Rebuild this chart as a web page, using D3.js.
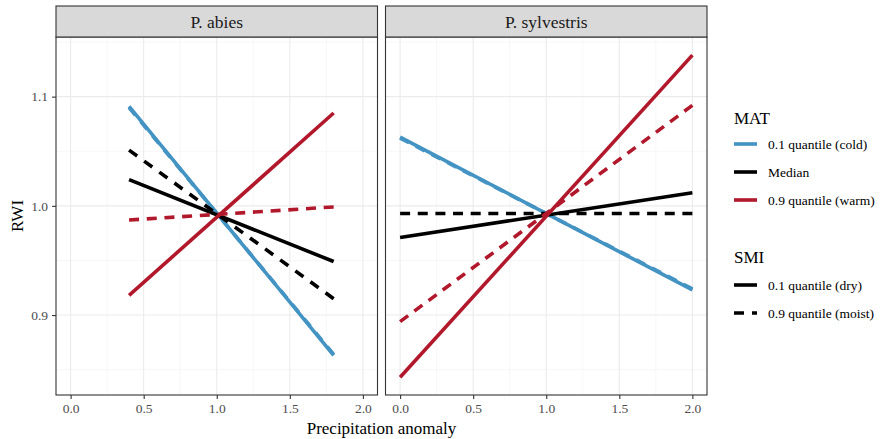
<!DOCTYPE html>
<html>
<head>
<meta charset="utf-8">
<script src="https://cdn.jsdelivr.net/npm/d3@7"></script>
<style>
  body { margin: 0; background: #fff; }
  svg text { font-family: "Liberation Serif", "Times New Roman", Times, "DejaVu Serif", serif !important; }
</style>
</head>
<body>
<svg id="chart"></svg>
<script>
var width = 881, height = 439;

// data
var panels = ["P. abies", "P. sylvestris"];
var matLevels = ["0.1 quantile (cold)", "Median", "0.9 quantile (warm)"];
var smiLevels = ["0.1 quantile (dry)", "0.9 quantile (moist)"];
var xTicks = [0.0, 0.5, 1.0, 1.5, 2.0];
var yTicks = [0.9, 1.0, 1.1];

var abiesX = [0.4, 1.8];
var abiesColdDry = [1.091, 0.863];
var abiesColdMoist = [1.090, 0.864];
var abiesMedDry = [1.024, 0.949];
var abiesMedMoist = [1.051, 0.915];
var abiesWarmDry = [0.918, 1.085];
var abiesWarmMoist = [0.987, 0.999];

var sylvX = [0.0, 2.0];
var sylvColdDry = [1.063, 0.923];
var sylvColdMoist = [1.062, 0.924];
var sylvMedDry = [0.971, 1.012];
var sylvMedMoist = [0.993, 0.993];
var sylvWarmDry = [0.843, 1.138];
var sylvWarmMoist = [0.894, 1.092];

var colors = ["#4393C3", "#000000", "#B2182B"];
var dashLen = 10, gapLen = 8;

var series = [
  {panel: 0, x: abiesX, y: abiesColdDry, mat: 0, smi: 0},
  {panel: 0, x: abiesX, y: abiesColdMoist, mat: 0, smi: 1},
  {panel: 0, x: abiesX, y: abiesMedDry, mat: 1, smi: 0},
  {panel: 0, x: abiesX, y: abiesMedMoist, mat: 1, smi: 1},
  {panel: 0, x: abiesX, y: abiesWarmDry, mat: 2, smi: 0},
  {panel: 0, x: abiesX, y: abiesWarmMoist, mat: 2, smi: 1},
  {panel: 1, x: sylvX, y: sylvColdDry, mat: 0, smi: 0},
  {panel: 1, x: sylvX, y: sylvColdMoist, mat: 0, smi: 1},
  {panel: 1, x: sylvX, y: sylvMedDry, mat: 1, smi: 0},
  {panel: 1, x: sylvX, y: sylvMedMoist, mat: 1, smi: 1},
  {panel: 1, x: sylvX, y: sylvWarmDry, mat: 2, smi: 0},
  {panel: 1, x: sylvX, y: sylvWarmMoist, mat: 2, smi: 1}
];

var svg = d3.select("#chart").attr("width", width).attr("height", height);

var panelLeft = [56, 385.5], panelW = 321.5;
var panelTop = 37, panelBottom = 395, stripTop = 6;

var y = d3.scaleLinear().domain([0.8268, 1.1546]).range([panelBottom, panelTop]);

panels.forEach(function (name, i) {
  var x = d3.scaleLinear().domain([-0.1, 2.1]).range([panelLeft[i], panelLeft[i] + panelW]);
  var g = svg.append("g");

  // grid
  var minorX = [0.25, 0.75, 1.25, 1.75];
  var minorY = [0.85, 0.95, 1.05, 1.15];
  g.selectAll(".mx").data(minorX).enter().append("line")
    .attr("x1", function (d) { return x(d); }).attr("x2", function (d) { return x(d); })
    .attr("y1", panelTop).attr("y2", panelBottom)
    .attr("stroke", "#F2F2F2").attr("stroke-width", 0.6);
  g.selectAll(".my").data(minorY).enter().append("line")
    .attr("x1", panelLeft[i]).attr("x2", panelLeft[i] + panelW)
    .attr("y1", function (d) { return y(d); }).attr("y2", function (d) { return y(d); })
    .attr("stroke", "#F2F2F2").attr("stroke-width", 0.6);
  g.selectAll(".gx").data(xTicks).enter().append("line")
    .attr("x1", function (d) { return x(d); }).attr("x2", function (d) { return x(d); })
    .attr("y1", panelTop).attr("y2", panelBottom)
    .attr("stroke", "#EBEBEB").attr("stroke-width", 1.1);
  g.selectAll(".gy").data(yTicks).enter().append("line")
    .attr("x1", panelLeft[i]).attr("x2", panelLeft[i] + panelW)
    .attr("y1", function (d) { return y(d); }).attr("y2", function (d) { return y(d); })
    .attr("stroke", "#EBEBEB").attr("stroke-width", 1.1);

  // lines
  var line = d3.line().x(function (d) { return x(d[0]); }).y(function (d) { return y(d[1]); });
  series.filter(function (s) { return s.panel === i; }).forEach(function (s) {
    var p = g.append("path")
      .datum(d3.zip(s.x, s.y))
      .attr("d", line)
      .attr("fill", "none")
      .attr("stroke", colors[s.mat])
      .attr("stroke-width", 3.6);
    if (s.smi === 1) {
      // stretch the gaps a little so each dashed line ends on a full dash
      var L = p.node().getTotalLength();
      var n = Math.max(1, Math.round((L - dashLen) / (dashLen + gapLen)));
      var gap = (L - dashLen) / n - dashLen;
      p.attr("stroke-dasharray", dashLen + "," + gap);
    }
  });

  // panel border
  g.append("rect").attr("x", panelLeft[i]).attr("y", panelTop)
    .attr("width", panelW).attr("height", panelBottom - panelTop)
    .attr("fill", "none").attr("stroke", "#333333").attr("stroke-width", 1.1);

  // strip
  g.append("rect").attr("x", panelLeft[i]).attr("y", stripTop)
    .attr("width", panelW).attr("height", panelTop - stripTop)
    .attr("fill", "#D9D9D9").attr("stroke", "#333333").attr("stroke-width", 1.1);
  g.append("text").attr("x", panelLeft[i] + panelW / 2).attr("y", (stripTop + panelTop) / 2 + 6)
    .attr("text-anchor", "middle").attr("font-size", 17.5).attr("fill", "#1A1A1A").text(name);

  // x axis
  var xa = g.append("g").attr("transform", "translate(0," + panelBottom + ")")
    .call(d3.axisBottom(x).tickValues(xTicks).tickFormat(d3.format(".1f")).tickSize(4).tickPadding(4));
  xa.select(".domain").remove();
  xa.selectAll("line").attr("stroke", "#333333").attr("stroke-width", 1.1);
  xa.selectAll("text").attr("fill", "#4D4D4D").attr("font-size", 13.5);

  if (i === 0) {
    var ya = g.append("g").attr("transform", "translate(" + panelLeft[i] + ",0)")
      .call(d3.axisLeft(y).tickValues(yTicks).tickFormat(d3.format(".1f")).tickSize(4).tickPadding(4));
    ya.select(".domain").remove();
    ya.selectAll("line").attr("stroke", "#333333").attr("stroke-width", 1.1);
    ya.selectAll("text").attr("fill", "#4D4D4D").attr("font-size", 13.5);
  }
});

// axis titles
svg.append("text").attr("x", (56 + 707) / 2).attr("y", 434)
  .attr("text-anchor", "middle").attr("font-size", 17).attr("fill", "#000").text("Precipitation anomaly");
svg.append("text").attr("transform", "translate(23," + (panelTop + panelBottom) / 2 + ") rotate(-90)")
  .attr("text-anchor", "middle").attr("font-size", 17).attr("fill", "#000").text("RWI");

// legends
var lg = svg.append("g").attr("transform", "translate(734,0)");
lg.append("text").attr("x", 0).attr("y", 124).attr("font-size", 17).text("MAT");
matLevels.forEach(function (d, i) {
  var yy = 144 + i * 28;
  lg.append("line").attr("x1", 0).attr("x2", 23).attr("y1", yy).attr("y2", yy)
    .attr("stroke", colors[i]).attr("stroke-width", 3.6);
  lg.append("text").attr("x", 34).attr("y", yy + 4.5).attr("font-size", 13.5).text(d);
});
lg.append("text").attr("x", 0).attr("y", 263).attr("font-size", 17).text("SMI");
smiLevels.forEach(function (d, i) {
  var yy = 285 + i * 28;
  lg.append("line").attr("x1", 0).attr("x2", 23).attr("y1", yy).attr("y2", yy)
    .attr("stroke", "#000").attr("stroke-width", 3.6)
    .attr("stroke-dasharray", i === 1 ? dashLen + "," + gapLen : null);
  lg.append("text").attr("x", 34).attr("y", yy + 4.5).attr("font-size", 13.5).text(d);
});
</script>
</body>
</html>
